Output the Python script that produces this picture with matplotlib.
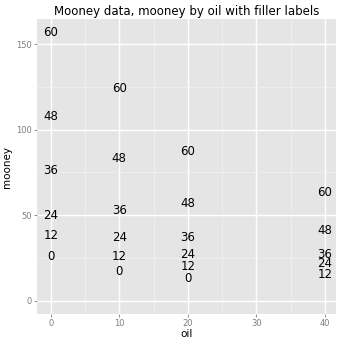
import numpy as np
import matplotlib
matplotlib.use("Agg")
import matplotlib.pyplot as plt

# Datos de Mooney: viscosidad por aceite, etiquetas de relleno
oil = [0, 0, 0, 0, 0, 0,
       10, 10, 10, 10, 10, 10,
       20, 20, 20, 20, 20, 20,
       40, 40, 40, 40, 40]
filler = [0, 12, 24, 36, 48, 60,
          0, 12, 24, 36, 48, 60,
          0, 12, 24, 36, 48, 60,
          12, 24, 36, 48, 60]
mooney = [26, 38, 50, 76, 108, 157,
          17, 26, 37, 53, 83, 124,
          13, 20, 27, 37, 57, 87,
          15, 22, 27, 41, 63]

fig = plt.figure(figsize=(3.39, 3.39), dpi=100)
ax = fig.add_axes([37/339, 25/339, 299/339, 295/339])
ax.set_facecolor("#E5E5E5")

for x, y, f in zip(oil, mooney, filler):
    ax.text(x, y, str(f), ha="center", va="center", fontsize=8.5, color="black")

ax.set_xlim(-2, 41.6)
ax.set_ylim(-7.85, 164.85)
ax.set_xticks([0, 10, 20, 30, 40])
ax.set_yticks([0, 50, 100, 150])
ax.set_xticks([5, 15, 25, 35], minor=True)
ax.set_yticks([25, 75, 125], minor=True)
ax.grid(which="major", color="white", linewidth=1.0)
ax.grid(which="minor", color="#F2F2F2", linewidth=0.5)
ax.set_axisbelow(True)
for s in ax.spines.values():
    s.set_visible(False)
ax.tick_params(which="major", colors="#7F7F7F", labelsize=6, length=2.5, width=0.6, pad=1.5)
ax.tick_params(axis="x", pad=1)
ax.tick_params(which="minor", length=0)

ax.set_xlabel("oil", fontsize=7.5)
ax.set_ylabel("mooney", fontsize=7.5)
ax.xaxis.set_label_coords(0.5, -0.05)
ax.yaxis.set_label_coords(-0.084, 0.5)
ax.set_title("Mooney data, mooney by oil with filler labels", fontsize=8.5, pad=3)

fig.savefig("out.png", dpi=100)
